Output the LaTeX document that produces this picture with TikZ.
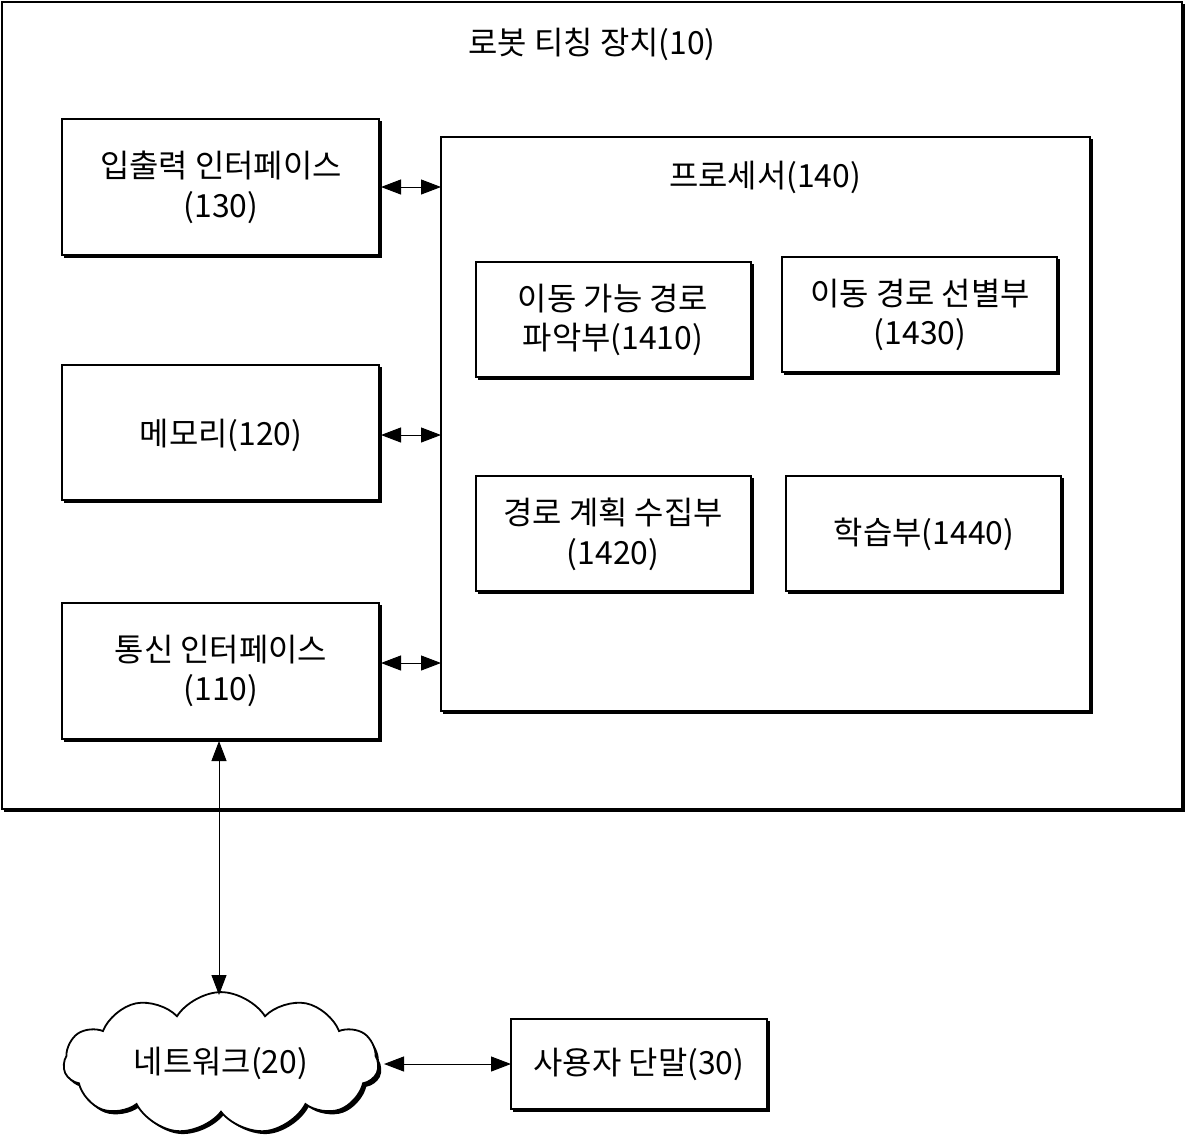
\documentclass[tikz,border=0pt]{standalone}
\usepackage{fontspec}
\newfontfamily\kr{Noto Sans CJK KR}
\usetikzlibrary{shapes.symbols,arrows.meta}
\begin{document}
\begin{tikzpicture}[x=1bp,y=-1bp,
  lbl/.style={font=\kr\fontsize{32}{40}\selectfont,align=center},
  tip/.tip={Triangle[length=20bp,width=15bp]},
  arr/.style={tip-tip,line width=1bp}]
\newcommand\shbox[5]{% name x1 y1 x2 y2
  \draw[line width=1.4bp] (#2,#3) rectangle (#4,#5);
  \draw[line width=3.5bp] (#2+2,#5+1) -- (#4+1,#5+1) -- (#4+1,#3+2);
  \coordinate (#1) at ({(#2+#4)/2},{(#3+#5)/2});}
\useasboundingbox (0,0) rectangle (1185,1145);
\shbox{outer}{2}{2}{1182}{809}
\node[lbl] (t10) at (592,44) {로봇 티칭 장치(10)};
\shbox{iob}{62}{119}{379}{255}
\node[lbl] (io) at (221,187) {입출력 인터페이스\\(130)};
\shbox{memb}{62}{365}{379}{500}
\node[lbl] (mem) at (221,435) {메모리(120)};
\shbox{comb}{62}{603}{379}{739}
\node[lbl] (com) at (221,671) {통신 인터페이스\\(110)};
\draw[line width=1.4bp] (441,137) rectangle (1090,711);
\draw[line width=3.5bp] (443,712) -- (1091,712) -- (1091,139);
\node[lbl] (proc) at (765,177) {프로세서(140)};
\shbox{a}{476}{262}{751}{377}
\node[lbl] (ta) at (613,320) {이동 가능 경로\\파악부(1410)};
\shbox{b}{782}{257}{1057}{372}
\node[lbl] (tb) at (920,315) {이동 경로 선별부\\(1430)};
\shbox{c}{476}{476}{751}{591}
\node[lbl] (tc) at (613,534) {경로 계획 수집부\\(1420)};
\shbox{d}{786}{476}{1061}{591}
\node[lbl] (td) at (924,534) {학습부(1440)};
\shbox{u}{511}{1019}{767}{1109}
\node[lbl] (user) at (639,1064) {사용자 단말(30)};
\node[cloud,cloud puffs=11,cloud puff arc=115,aspect=2.4,minimum width=316,minimum height=140,fill=black] (netsh) at (224,1067) {};
\node[cloud,cloud puffs=11,cloud puff arc=115,aspect=2.4,minimum width=316,minimum height=140,fill=white,draw,line width=1.8bp,lbl] (net) at (221,1063) {네트워크(20)};
\coordinate (ioR) at (381,187); \coordinate (ioP) at (441,187);
\coordinate (mR) at (381,435); \coordinate (mP) at (441,435);
\coordinate (cR) at (381,663); \coordinate (cP) at (441,663);
\draw[arr] (ioR) -- (ioP);
\draw[arr] (mR) -- (mP);
\draw[arr] (cR) -- (cP);
\coordinate (cB) at (219,741); \coordinate (nT) at (219,995);
\draw[arr] (cB) -- (nT);
\coordinate (nR) at (384,1064); \coordinate (uL) at (511,1064);
\draw[arr] (nR) -- (uL);
\end{tikzpicture}
\end{document}
